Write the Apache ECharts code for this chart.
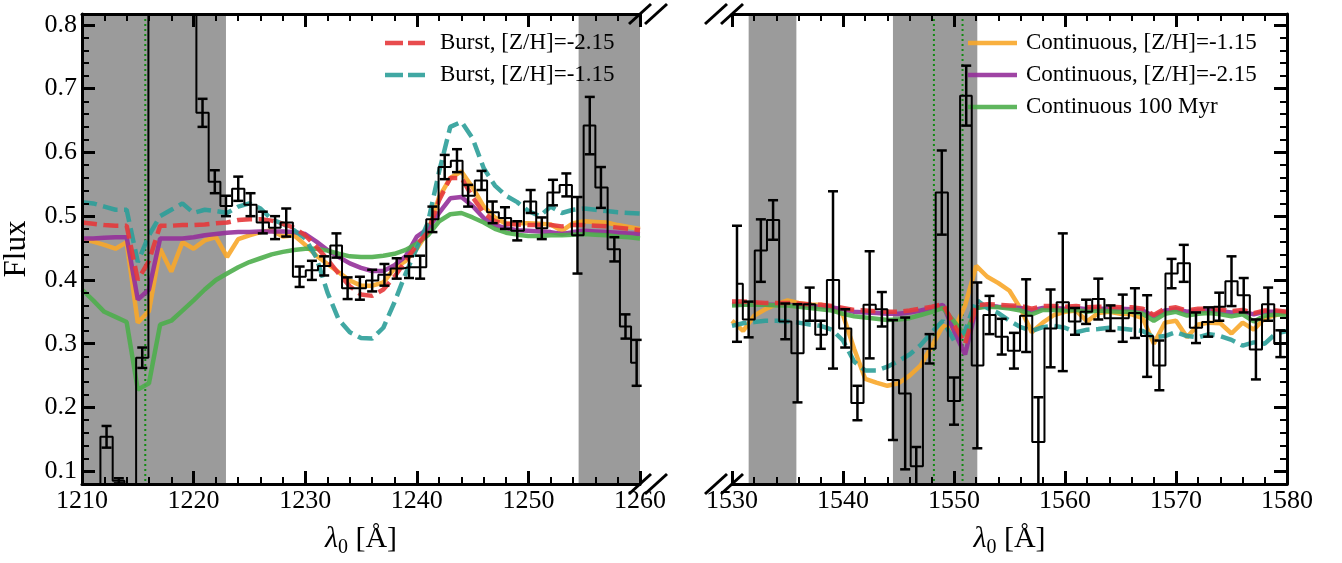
<!DOCTYPE html>
<html><head><meta charset="utf-8">
<script src="https://cdn.jsdelivr.net/npm/echarts@6/dist/echarts.min.js"></script>
<style>html,body{margin:0;padding:0;background:#fff}#c{width:1342px;height:563px}</style>
</head><body><div id="c"></div>
<script>
// ---------- Left panel (Lyα region) ----------
var wlL   = [1210.0,1211.1,1212.2,1213.3,1214.3,1215.4,1216.5,1217.6,1218.7,1219.7,1220.8,1221.9,1222.9,1224.0,1225.1,1226.2,1227.3,1228.3,1229.5,1230.6,1231.7,1232.8,1233.8,1234.9,1236.0,1237.1,1238.2,1239.3,1240.3,1241.4,1242.5,1243.6,1244.6,1245.8,1246.8,1247.9,1249.0,1250.2,1251.2,1252.2,1253.4,1254.4,1255.5,1256.5,1257.7,1258.7,1259.7];
var fluxL = [0.060,0.060,0.154,0.085,0.050,0.278,0.950,1.050,1.000,0.900,0.662,0.554,0.516,0.543,0.518,0.490,0.482,0.490,0.405,0.415,0.422,0.454,0.387,0.387,0.399,0.408,0.418,0.420,0.420,0.495,0.577,0.587,0.532,0.556,0.506,0.497,0.477,0.523,0.481,0.537,0.549,0.470,0.642,0.545,0.448,0.327,0.270];
var errL  = [0.010,0.010,0.017,0.004,0.010,0.016,0.030,0.030,0.030,0.030,0.022,0.018,0.016,0.019,0.018,0.017,0.018,0.022,0.016,0.015,0.015,0.019,0.017,0.018,0.017,0.017,0.016,0.017,0.018,0.020,0.019,0.018,0.017,0.015,0.017,0.017,0.015,0.018,0.017,0.020,0.018,0.060,0.045,0.032,0.019,0.019,0.036];

var modelWlL = [1210,1211,1212,1213,1214,1215,1216,1217,1218,1219,1220,1221,1222,1223,1224,1225,1226,1227,1228,1229,1230,1231,1232,1233,1234,1235,1236,1237,1238,1239,1240,1241,1242,1243,1244,1245,1246,1247,1248,1249,1250,1251,1252,1253,1254,1255,1256,1257,1258,1259,1260];
var burstLowL  = [0.490,0.488,0.486,0.485,0.485,0.400,0.430,0.485,0.485,0.486,0.486,0.487,0.489,0.490,0.494,0.495,0.495,0.493,0.488,0.482,0.470,0.452,0.432,0.410,0.390,0.377,0.375,0.385,0.405,0.430,0.455,0.475,0.525,0.560,0.560,0.530,0.505,0.492,0.488,0.487,0.486,0.486,0.486,0.484,0.486,0.486,0.485,0.484,0.482,0.480,0.478];
var burstHighL = [0.522,0.520,0.515,0.510,0.510,0.428,0.470,0.500,0.510,0.520,0.505,0.510,0.508,0.505,0.515,0.520,0.512,0.495,0.488,0.478,0.465,0.435,0.380,0.338,0.318,0.309,0.308,0.325,0.365,0.410,0.450,0.490,0.570,0.640,0.648,0.622,0.575,0.548,0.532,0.522,0.508,0.500,0.515,0.505,0.510,0.512,0.510,0.508,0.506,0.505,0.504];
var contHighL  = [0.464,0.460,0.455,0.449,0.459,0.333,0.351,0.449,0.413,0.459,0.449,0.462,0.467,0.436,0.464,0.470,0.475,0.478,0.468,0.470,0.455,0.438,0.425,0.412,0.399,0.391,0.391,0.396,0.418,0.430,0.449,0.476,0.530,0.560,0.570,0.545,0.515,0.498,0.488,0.489,0.489,0.488,0.487,0.477,0.489,0.492,0.491,0.490,0.486,0.483,0.480];
var contLowL   = [0.465,0.465,0.466,0.467,0.467,0.369,0.385,0.465,0.465,0.465,0.467,0.470,0.472,0.474,0.475,0.475,0.476,0.476,0.476,0.475,0.472,0.460,0.447,0.436,0.426,0.419,0.414,0.414,0.423,0.437,0.468,0.480,0.505,0.528,0.530,0.516,0.497,0.486,0.481,0.478,0.477,0.476,0.475,0.472,0.475,0.477,0.476,0.475,0.474,0.473,0.472];
var cont100L   = [0.385,0.368,0.350,0.342,0.334,0.228,0.238,0.330,0.336,0.352,0.368,0.385,0.400,0.410,0.420,0.428,0.434,0.440,0.444,0.447,0.449,0.449,0.446,0.441,0.437,0.436,0.436,0.438,0.441,0.447,0.457,0.470,0.492,0.503,0.505,0.498,0.490,0.480,0.474,0.471,0.469,0.469,0.470,0.470,0.471,0.472,0.471,0.470,0.468,0.467,0.465];

// ---------- Right panel (C IV region) ----------
var wlR   = [1530.45,1531.5,1532.6,1533.7,1534.8,1535.9,1537.0,1538.0,1539.1,1540.2,1541.3,1542.4,1543.5,1544.5,1545.6,1546.6,1547.8,1548.9,1550.0,1551.1,1552.1,1553.2,1554.3,1555.4,1556.5,1557.6,1558.7,1559.8,1560.9,1561.9,1563.0,1564.1,1565.2,1566.3,1567.4,1568.5,1569.6,1570.7,1571.8,1572.9,1573.9,1575.0,1576.1,1577.2,1578.3,1579.4];
var fluxR = [0.394,0.338,0.446,0.494,0.335,0.285,0.362,0.314,0.400,0.324,0.207,0.361,0.354,0.243,0.222,0.108,0.292,0.537,0.210,0.689,0.266,0.345,0.311,0.289,0.344,0.146,0.324,0.365,0.335,0.350,0.370,0.340,0.340,0.348,0.312,0.266,0.410,0.426,0.325,0.334,0.358,0.398,0.376,0.291,0.362,0.300];
var errR  = [0.091,0.028,0.049,0.031,0.028,0.077,0.026,0.022,0.139,0.030,0.027,0.084,0.027,0.094,0.119,0.030,0.023,0.066,0.037,0.047,0.130,0.030,0.028,0.028,0.057,0.070,0.061,0.108,0.021,0.019,0.032,0.020,0.037,0.039,0.064,0.039,0.023,0.029,0.024,0.023,0.022,0.039,0.027,0.047,0.026,0.021];

var modelWlR = [1530,1531,1532,1533,1534,1535,1536,1537,1538,1539,1540,1541,1542,1543,1544,1545,1546,1547,1548,1549,1550,1551,1552,1553,1554,1555,1556,1557,1558,1559,1560,1561,1562,1563,1564,1565,1566,1567,1568,1569,1570,1571,1572,1573,1574,1575,1576,1577,1578,1579,1580];
var burstLowR  = [0.366,0.366,0.365,0.364,0.364,0.364,0.363,0.362,0.361,0.359,0.356,0.353,0.352,0.351,0.350,0.350,0.352,0.355,0.358,0.362,0.330,0.300,0.360,0.362,0.361,0.360,0.359,0.355,0.359,0.359,0.358,0.359,0.357,0.358,0.358,0.357,0.357,0.355,0.345,0.355,0.357,0.352,0.355,0.355,0.354,0.351,0.353,0.348,0.352,0.352,0.350];
var burstHighR = [0.328,0.332,0.334,0.336,0.336,0.335,0.333,0.330,0.328,0.322,0.305,0.272,0.258,0.258,0.264,0.273,0.283,0.298,0.318,0.336,0.305,0.320,0.369,0.356,0.348,0.336,0.326,0.320,0.326,0.328,0.325,0.318,0.322,0.323,0.325,0.324,0.322,0.320,0.310,0.312,0.318,0.312,0.310,0.315,0.312,0.306,0.297,0.302,0.300,0.316,0.320];
var contHighR  = [0.336,0.320,0.344,0.354,0.362,0.368,0.364,0.361,0.361,0.357,0.345,0.292,0.245,0.239,0.234,0.238,0.250,0.266,0.296,0.328,0.322,0.360,0.422,0.405,0.395,0.383,0.355,0.318,0.333,0.345,0.350,0.352,0.335,0.348,0.350,0.347,0.346,0.340,0.300,0.333,0.336,0.310,0.330,0.333,0.332,0.316,0.333,0.322,0.340,0.345,0.350];
var contLowR   = [0.362,0.362,0.362,0.361,0.361,0.361,0.360,0.359,0.358,0.357,0.354,0.350,0.349,0.348,0.347,0.347,0.349,0.352,0.356,0.361,0.320,0.283,0.356,0.360,0.358,0.357,0.356,0.352,0.356,0.356,0.355,0.356,0.354,0.355,0.355,0.355,0.354,0.352,0.343,0.352,0.354,0.350,0.352,0.352,0.351,0.349,0.350,0.346,0.350,0.350,0.348];
var cont100R   = [0.360,0.361,0.361,0.361,0.360,0.360,0.358,0.356,0.354,0.352,0.347,0.343,0.341,0.339,0.337,0.338,0.340,0.345,0.350,0.356,0.335,0.313,0.356,0.358,0.357,0.355,0.352,0.346,0.353,0.353,0.352,0.353,0.350,0.352,0.351,0.350,0.350,0.347,0.336,0.347,0.350,0.344,0.347,0.348,0.346,0.343,0.346,0.335,0.344,0.346,0.345];

// ---------- Annotations ----------
var maskedL = [[1210, 1222.9], [1254.5, 1260]];
var maskedR = [[1531.5, 1535.8], [1544.5, 1552.1]];
var restLinesL = [1215.67];
var restLinesR = [1548.19, 1550.77];

// ---------- Axes ----------
var xRangeL = [1210, 1260];
var xRangeR = [1530, 1580];
var yRange = [0.08, 0.817];
var yMajorTicks = [0.1, 0.2, 0.3, 0.4, 0.5, 0.6, 0.7, 0.8];

var NAMES = ['Burst, [Z/H]=-2.15', 'Burst, [Z/H]=-1.15', 'Continuous, [Z/H]=-1.15', 'Continuous, [Z/H]=-2.15', 'Continuous 100 Myr'];
var COLORS = ['#e5383b', '#2c9f99', '#f8a72a', '#95309a', '#4eae4c'];
var FONT = 'Liberation Serif';

function zip(xs, ys) { return xs.map(function (x, i) { return [x, ys[i]]; }); }
function zip3(xs, ys, es) { return xs.map(function (x, i) { return [x, ys[i], es[i]]; }); }

function errRender(params, api) {
  var x = api.value(0), v = api.value(1), e = api.value(2);
  var cs = params.coordSys;
  var top = api.coord([x, v + e]), bot = api.coord([x, v - e]);
  var px = top[0];
  if (px < cs.x - 1 || px > cs.x + cs.width + 1) return;
  var y0 = cs.y, y1 = cs.y + cs.height;
  var ty = Math.max(top[1], y0), by = Math.min(bot[1], y1);
  if (ty >= by) return;
  var st = { stroke: '#000', lineWidth: 2.5 };
  var ch = [{ type: 'line', shape: { x1: px, y1: ty, x2: px, y2: by }, style: st }];
  var cw = 5;
  if (top[1] >= y0) ch.push({ type: 'line', shape: { x1: px - cw, y1: top[1], x2: px + cw, y2: top[1] }, style: st });
  if (bot[1] <= y1) ch.push({ type: 'line', shape: { x1: px - cw, y1: bot[1], x2: px + cw, y2: bot[1] }, style: st });
  return { type: 'group', children: ch };
}
function shadeRender(params, api) {
  var cs = params.coordSys;
  var a = api.coord([api.value(0), yRange[1]]), b = api.coord([api.value(1), yRange[0]]);
  var x0 = Math.max(a[0], cs.x), x1 = Math.min(b[0], cs.x + cs.width);
  return { type: 'rect', shape: { x: x0, y: cs.y, width: x1 - x0, height: cs.height }, style: { fill: '#9b9b9b' } };
}
function restRender(params, api) {
  var cs = params.coordSys;
  var p = api.coord([api.value(0), yRange[0]]);
  return { type: 'line', shape: { x1: p[0], y1: cs.y, x2: p[0], y2: cs.y + cs.height }, style: { stroke: '#138a13', lineWidth: 2, lineDash: [2, 3] } };
}

function xAxes(grid, range) {
  var common = {
    gridIndex: grid, type: 'value', min: range[0], max: range[1], interval: 10, z: 10,
    axisLine: { show: true, lineStyle: { color: '#000', width: 3 } },
    axisTick: { show: true, inside: true, length: 13, lineStyle: { color: '#000', width: 3 } },
    minorTick: { show: true, splitNumber: 5, length: 7, lineStyle: { color: '#000', width: 2 } },
    splitLine: { show: false }
  };
  var bottom = Object.assign({}, common, {
    position: 'bottom',
    axisLabel: { color: '#000', fontFamily: FONT, fontSize: 26, margin: 4, formatter: function (v) { return String(v); } },
    name: '{l|λ}{s|0}{n| [Å]}', nameLocation: 'middle', nameGap: 37,
    nameTextStyle: { color: '#000', fontFamily: FONT,
      rich: {
        l: { fontFamily: FONT, fontSize: 30, fontStyle: 'italic', lineHeight: 36, color: '#000' },
        s: { fontFamily: FONT, fontSize: 20, lineHeight: 20, padding: [18, 0, 0, 0], color: '#000' },
        n: { fontFamily: FONT, fontSize: 30, lineHeight: 36, color: '#000' }
      } }
  });
  var top = Object.assign({}, common, { position: 'top', axisLabel: { show: false } });
  return [bottom, top];
}
function yAxes(grid, side, labels) {
  var minor = {
    gridIndex: grid, type: 'value', position: side, min: yRange[0], max: yRange[1], interval: 0.02, z: 10,
    axisLine: { show: true, lineStyle: { color: '#000', width: 3 } },
    axisTick: { show: true, inside: true, length: 7, lineStyle: { color: '#000', width: 2 } },
    splitLine: { show: false },
    axisLabel: labels ? {
      show: true, interval: 0, color: '#000', fontFamily: FONT, fontSize: 26, margin: 5,
      formatter: function (v) { var t = v * 10; return Math.abs(t - Math.round(t)) < 1e-6 ? (Math.round(t) / 10).toFixed(1) : ''; }
    } : { show: false }
  };
  if (labels) {
    minor.name = 'Flux'; minor.nameLocation = 'middle'; minor.nameGap = 50;
    minor.nameTextStyle = { color: '#000', fontFamily: FONT, fontSize: 31 };
  }
  var major = {
    gridIndex: grid, type: 'value', position: side, min: yRange[0], max: yRange[1], z: 10,
    axisLine: { show: false },
    axisTick: { show: true, inside: true, length: 13, customValues: yMajorTicks, lineStyle: { color: '#000', width: 3 } },
    axisLabel: { show: false },
    splitLine: { show: false }
  };
  return [minor, major];
}

var models = [[burstLowL, burstLowR], [burstHighL, burstHighR], [contHighL, contHighR], [contLowL, contLowR], [cont100L, cont100R]];
var modelOrder = [2, 3, 4, 1, 0];
var series = [];
[0, 1].forEach(function (p) {
  var xi = p === 0 ? 0 : 2, yi = p === 0 ? 0 : 2;
  series.push({ type: 'custom', xAxisIndex: xi, yAxisIndex: yi, z: 1, silent: true,
    renderItem: shadeRender, data: p === 0 ? maskedL : maskedR, encode: { x: [0, 1] } });
  series.push({ type: 'custom', xAxisIndex: xi, yAxisIndex: yi, z: 2, silent: true,
    renderItem: restRender, data: (p === 0 ? restLinesL : restLinesR).map(function (v) { return [v]; }), encode: { x: 0 } });
  modelOrder.forEach(function (m, k) {
    var dashed = m < 2;
    series.push({
      name: NAMES[m], type: 'line', xAxisIndex: xi, yAxisIndex: yi, z: 3 + k * 0.1,
      data: zip(p === 0 ? modelWlL : modelWlR, models[m][p]),
      showSymbol: false, symbol: 'none', clip: true,
      lineStyle: { color: COLORS[m], width: 4.5, opacity: 0.9, type: dashed ? [15, 6.5] : 'solid' },
      itemStyle: { color: COLORS[m], opacity: 0.9 }
    });
  });
  series.push({ type: 'line', xAxisIndex: xi, yAxisIndex: yi, z: 5, step: 'middle', symbol: 'none', clip: true,
    data: zip(p === 0 ? wlL : wlR, p === 0 ? fluxL : fluxR), lineStyle: { color: '#000', width: 2 }, silent: true });
  series.push({ type: 'custom', xAxisIndex: xi, yAxisIndex: yi, z: 6, silent: true, renderItem: errRender,
    data: p === 0 ? zip3(wlL, fluxL, errL) : zip3(wlR, fluxR, errR), encode: { x: 0, y: 1 } });
});

var DASH_ICON = 'path://M0,0h18v4.5h-18zM23,0h17v4.5h-17z';
var SOLID_ICON = 'rect';
function legendItems(idxs) {
  return idxs.map(function (m) { return { name: NAMES[m], icon: m < 2 ? DASH_ICON : SOLID_ICON }; });
}
var legendCommon = {
  orient: 'vertical', itemWidth: 40, itemHeight: 4.5, itemGap: 8, selectedMode: false,
  textStyle: { color: '#000', fontFamily: FONT, fontSize: 23, lineHeight: 24, padding: [0, 0, 0, 10] }
};

var option = {
  animation: false,
  backgroundColor: '#fff',
  grid: [
    { left: 82, top: 14, width: 558, height: 480 },
    { left: 732, top: 14, width: 555, height: 480 }
  ],
  legend: [
    Object.assign({}, legendCommon, { left: 380, top: 26, data: legendItems([0, 1]) }),
    Object.assign({}, legendCommon, { left: 963, top: 26, itemWidth: 49,
      textStyle: Object.assign({}, legendCommon.textStyle, { padding: [0, 0, 0, 4] }), data: legendItems([2, 3, 4]) })
  ],
  xAxis: xAxes(0, xRangeL).concat(xAxes(1, xRangeR)),
  yAxis: yAxes(0, 'left', true).concat(yAxes(1, 'right', false)),
  series: series
};

var chart = echarts.init(document.getElementById('c'), null, { renderer: 'canvas' });
chart.setOption(option);

// axis-break marks at the inner corners of the two panels
function breakMarks() {
  var g = [];
  var tl = chart.convertToPixel({ xAxisIndex: 0, yAxisIndex: 0 }, [xRangeL[1], yRange[1]]);
  var bl = chart.convertToPixel({ xAxisIndex: 0, yAxisIndex: 0 }, [xRangeL[1], yRange[0]]);
  var tr = chart.convertToPixel({ xAxisIndex: 2, yAxisIndex: 2 }, [xRangeR[0], yRange[1]]);
  var br = chart.convertToPixel({ xAxisIndex: 2, yAxisIndex: 2 }, [xRangeR[0], yRange[0]]);
  [[tl, 0], [tl, 16], [bl, 0], [bl, 16], [tr, -16], [tr, 0], [br, -16], [br, 0]].forEach(function (c) {
    var cx = c[0][0] + c[1], cy = c[0][1];
    g.push({ type: 'line', z: 20, shape: { x1: cx - 11, y1: cy + 10, x2: cx + 11, y2: cy - 10 }, style: { stroke: '#000', lineWidth: 3 } });
  });
  chart.setOption({ graphic: g });
}
breakMarks();
</script></body></html>
